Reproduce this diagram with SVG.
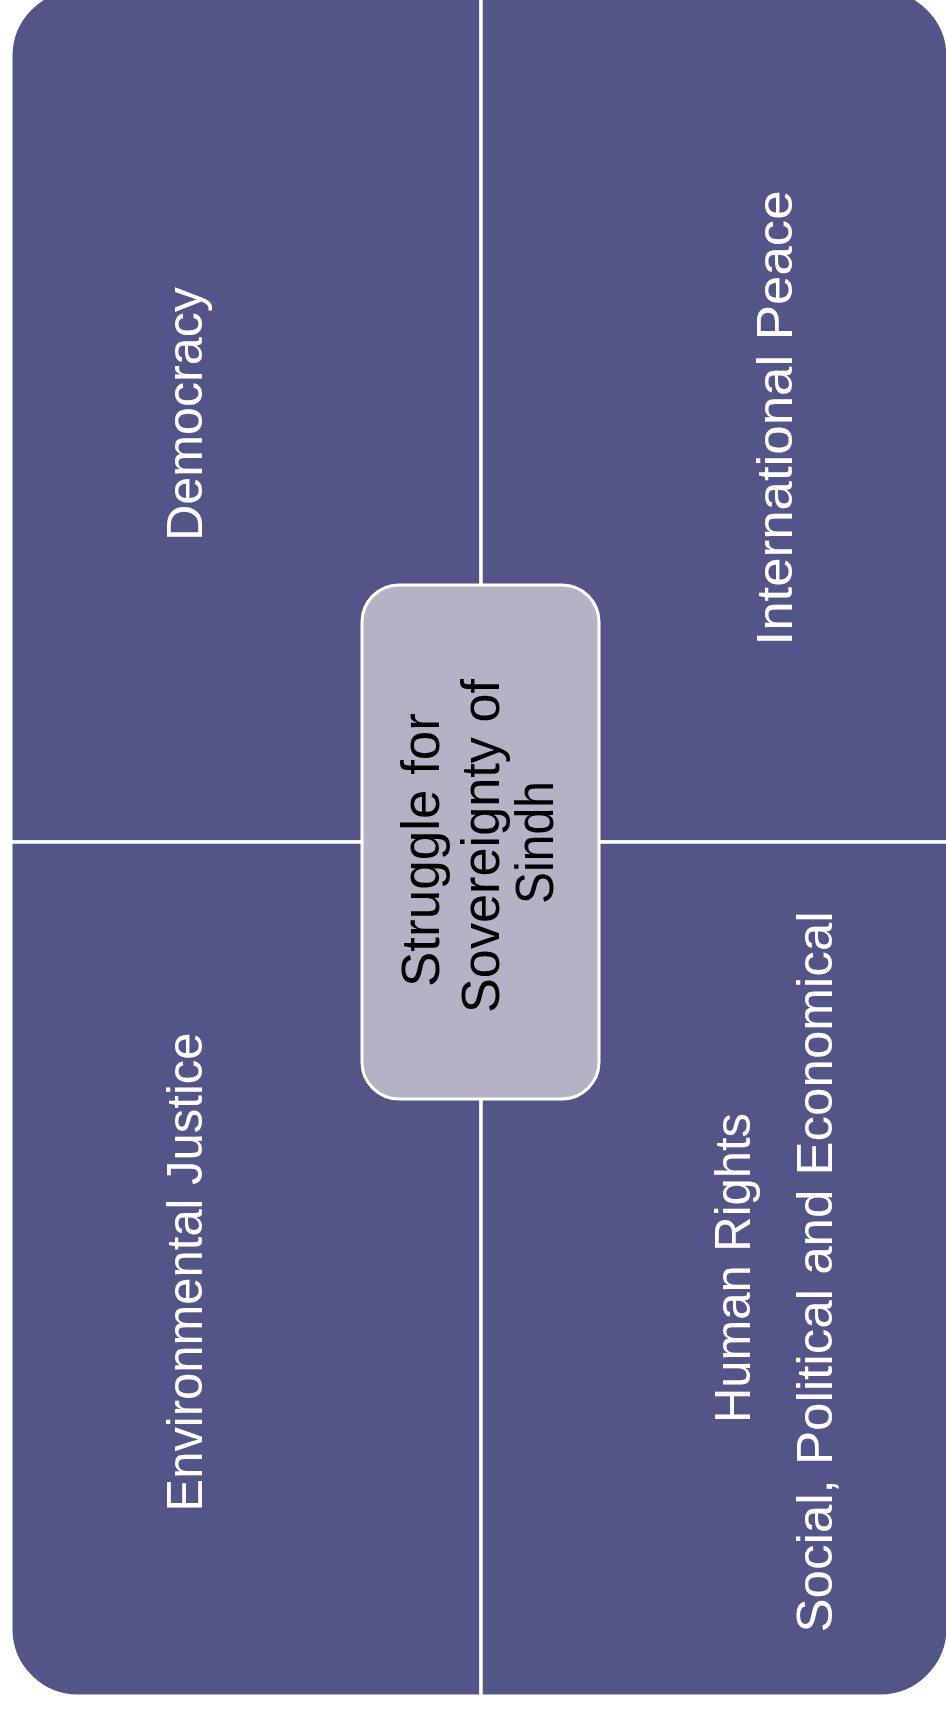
<svg xmlns="http://www.w3.org/2000/svg" width="946" height="1709" viewBox="0 0 946 1709">
<style>
.q{fill:#535488;stroke:#ffffff;stroke-width:3}
.c{fill:#B4B3C6;stroke:#ffffff;stroke-width:3}
.t{font-family:"Liberation Sans",Arial,sans-serif;font-size:50px;fill:#ffffff;text-anchor:middle}
.ct{font-family:"Liberation Sans",Arial,sans-serif;font-size:53px;fill:#000000;text-anchor:middle}
.ln{stroke:#ffffff;stroke-width:3}
</style>
<rect width="946" height="1709" fill="#ffffff"/>
<g id="q-democracy">
<path class="q" d="M11,56 A67,67 0 0 1 78,-11 L481,-11 L481,842 L11,842 Z"/>
<text class="t" transform="translate(202,414) rotate(-90)" textLength="254" lengthAdjust="spacingAndGlyphs">Democracy</text>
</g>
<g id="q-peace">
<path class="q" d="M481,-11 L880,-11 A68,68 0 0 1 948,57 L948,842 L481,842 Z"/>
<text class="t" transform="translate(792,418) rotate(-90)" textLength="455" lengthAdjust="spacingAndGlyphs">International Peace</text>
</g>
<g id="q-environment">
<path class="q" d="M11,842 L481,842 L481,1696 L78,1696 A67,67 0 0 1 11,1629 Z"/>
<text class="t" transform="translate(202,1272) rotate(-90)" textLength="479" lengthAdjust="spacingAndGlyphs">Environmental  Justice</text>
</g>
<g id="q-rights">
<path class="q" d="M481,842 L948,842 L948,1628 A68,68 0 0 1 880,1696 L481,1696 Z"/>
<text class="t" transform="translate(750,1268) rotate(-90)" textLength="310" lengthAdjust="spacingAndGlyphs">Human Rights</text>
<text class="t" transform="translate(832,1272) rotate(-90)" textLength="721" lengthAdjust="spacingAndGlyphs">Social, Political and Economical</text>
</g>
<g id="connectors">
<line class="ln" x1="481" y1="0" x2="481" y2="1696"/>
<line class="ln" x1="11" y1="842" x2="946" y2="842"/>
</g>
<g id="center">
<rect class="c" x="362" y="585" width="237" height="514" rx="37" ry="37"/>
<text class="ct" transform="translate(439,850) rotate(-90)" textLength="274" lengthAdjust="spacingAndGlyphs">Struggle for</text>
<text class="ct" transform="translate(499,846) rotate(-90)" textLength="334" lengthAdjust="spacingAndGlyphs">Sovereignty of</text>
<text class="ct" transform="translate(553,842.5) rotate(-90)" textLength="123" lengthAdjust="spacingAndGlyphs">Sindh</text>
</g>
</svg>
